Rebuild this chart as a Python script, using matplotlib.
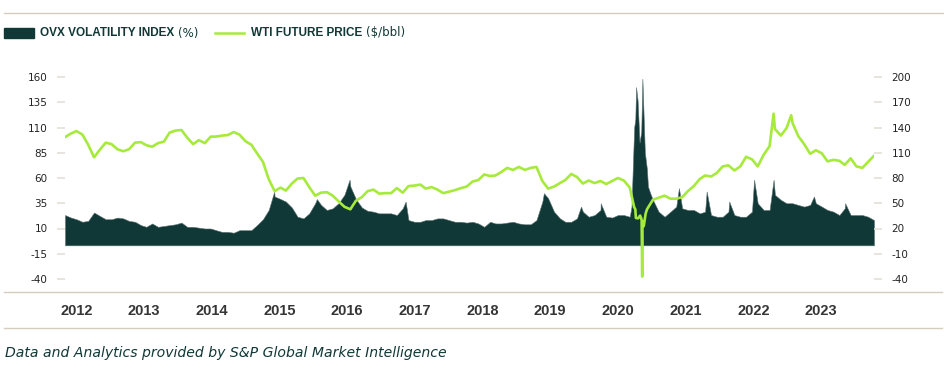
import matplotlib
matplotlib.use("Agg")
import matplotlib.pyplot as plt
from matplotlib.lines import Line2D
from matplotlib.patches import Rectangle
import pandas as pd

plt.rcParams["axes.unicode_minus"] = False

# Mensual (valor a mitad de mes), ene-2012 a ago-2023
wti_mensual = [
    100.5, 104.0, 106.5, 103.0, 93.0, 80.5, 88.0, 95.0, 93.5, 88.5, 86.5, 88.5,   # 2012
    95.0, 95.5, 92.5, 91.0, 94.5, 96.0, 105.0, 107.0, 107.5, 100.0, 93.5, 97.5,   # 2013
    94.5, 101.0, 101.0, 102.0, 102.5, 105.5, 103.0, 96.5, 93.0, 84.5, 76.0, 59.0, # 2014
    47.0, 50.5, 47.5, 54.5, 59.5, 60.0, 51.0, 42.5, 45.5, 46.0, 42.5, 37.0,       # 2015
    31.5, 29.0, 37.5, 41.0, 47.0, 48.5, 44.5, 45.0, 45.0, 50.0, 45.5, 52.0,       # 2016
    52.5, 53.5, 49.5, 51.0, 48.5, 45.0, 46.5, 48.0, 50.0, 51.5, 56.5, 58.0,       # 2017
    63.5, 62.0, 62.5, 66.0, 70.0, 68.0, 71.0, 68.0, 70.0, 71.0, 57.0, 49.5,       # 2018
    51.5, 55.0, 58.0, 64.0, 61.0, 54.5, 57.5, 55.0, 57.0, 54.0, 57.0, 60.0,       # 2019
    57.5, 50.5, 29.0, 19.9, 29.0, 38.5, 40.5, 42.5, 39.5, 39.5, 41.0, 47.0,       # 2020
    52.0, 59.0, 62.5, 61.5, 65.0, 71.5, 72.5, 67.5, 71.5, 81.0, 78.5, 71.5,       # 2021
    83.0, 91.5, 108.5, 102.0, 109.5, 114.5, 101.5, 93.5, 84.0, 87.5, 84.5, 76.5,  # 2022
    78.0, 77.0, 73.0, 79.5, 71.5, 70.0, 76.0, 82.0,                               # 2023
]
ovx_mensual = [
    36, 33, 31, 28, 29, 39, 35, 31, 31, 33, 32, 29,   # 2012
    28, 24, 22, 26, 22, 23, 24, 25, 27, 22, 22, 21,   # 2013
    20, 20, 18, 16, 16, 15, 18, 18, 18, 24, 31, 42,   # 2014
    58, 55, 52, 45, 34, 32, 38, 50, 48, 42, 44, 50,   # 2015
    60, 70, 55, 45, 41, 40, 38, 38, 38, 36, 44, 30,   # 2016
    28, 28, 30, 30, 32, 32, 30, 28, 28, 27, 28, 26,   # 2017
    22, 28, 26, 26, 27, 28, 26, 25, 25, 30, 52, 56,   # 2018
    40, 32, 28, 28, 32, 40, 34, 36, 42, 34, 33, 36,   # 2019
    36, 34, 150, 135, 90, 54, 40, 34, 40, 46, 44, 42, # 2020
    42, 38, 40, 36, 34, 34, 40, 36, 34, 34, 40, 50,   # 2021
    42, 42, 60, 54, 50, 50, 48, 46, 48, 50, 46, 42,   # 2022
    40, 36, 44, 36, 36, 36, 34, 30,                   # 2023
]

# Picos diarios que el promedio mensual no muestra
wti_fechas_dia = ["2020-03-09", "2020-03-18", "2020-03-30", "2020-04-09", "2020-04-17",
                  "2020-04-20", "2020-04-21", "2020-04-24", "2020-04-28", "2020-05-08",
                  "2022-03-08", "2022-06-08"]
wti_dia = [31.1, 20.4, 20.1, 22.8, 18.3, -37.6, 10.0, 17.0, 12.3, 24.7, 123.7, 122.1]

ovx_fechas_dia = ["2015-01-13", "2015-08-24", "2016-02-11", "2016-11-30", "2018-11-23",
                  "2019-06-05", "2019-09-16", "2020-02-24", "2020-03-03", "2020-03-09",
                  "2020-03-19", "2020-03-27", "2020-04-06", "2020-04-21", "2020-04-27",
                  "2020-05-04", "2020-05-20", "2020-06-01", "2020-10-29", "2021-03-23",
                  "2021-07-19", "2021-11-26", "2022-03-08", "2022-10-05", "2023-03-17"]
ovx_dia = [64, 55, 78, 52, 62, 46, 50, 46, 100, 140, 188, 172, 122, 198, 157,
           110, 70, 62, 68, 64, 52, 78, 78, 58, 50]

anios = ["2012", "2013", "2014", "2015", "2016", "2017",
         "2018", "2019", "2020", "2021", "2022", "2023"]
ticks_izq = [-40, -15, 10, 35, 60, 85, 110, 135, 160]
ticks_der = [-40, -10, 20, 50, 80, 110, 140, 170, 200]

# Colores
verde_osc = "#103836"
lima = "#a6ea3c"
linea_gris = "#d5cebf"
tick_gris = "#e3e0d8"
fuente_estrecha = ["Liberation Sans", "DejaVu Sans"]


def serie(valores, fechas_extra, valores_extra):
    meses = pd.date_range("2012-01-01", periods=len(valores), freq="MS") + pd.Timedelta(days=14)
    s = pd.Series(valores, index=meses, dtype=float)
    extra = pd.Series(valores_extra, index=pd.to_datetime(fechas_extra), dtype=float)
    s = pd.concat([s, extra]).sort_index()
    return s[~s.index.duplicated(keep="last")]


wti = serie(wti_mensual, wti_fechas_dia, wti_dia)
ovx = serie(ovx_mensual, ovx_fechas_dia, ovx_dia)

fig = plt.figure(figsize=(9.45, 3.75), dpi=100)
ax = fig.add_axes([65 / 945, 96 / 375, 809 / 945, 202 / 375])
ax2 = ax.twinx()

# OVX relleno (eje derecho), WTI linea (eje izquierdo)
ax2.fill_between(ovx.index, 0, ovx.values, color=verde_osc, linewidth=0.4, edgecolor="#5d7574")
ax.plot(wti.index, wti.values, color=lima, linewidth=1.9, solid_joinstyle="round")
ax.set_zorder(ax2.get_zorder() + 1)
ax.patch.set_visible(False)

ax.set_ylim(-40, 160)
ax2.set_ylim(-40, 200)
ax.set_yticks(ticks_izq)
ax2.set_yticks(ticks_der)
ax.set_xlim(wti.index[0], wti.index[-1])

# etiquetas de anio repartidas como en el original
inicio = pd.Timestamp("2012-03-14")
pos_anios = [inicio + pd.Timedelta(days=354 * i) for i in range(len(anios))]
ax.set_xticks(pos_anios)
ax.set_xticklabels(anios, family=fuente_estrecha, fontweight="bold", fontsize=10.5, color="#353535")
ax.tick_params(axis="x", length=0, pad=18)

for a in (ax, ax2):
    for sp in a.spines.values():
        sp.set_visible(False)
    a.tick_params(axis="y", length=6, width=1.2, color=tick_gris, pad=6.5,
                  labelsize=7.5, labelcolor="#222222")
ax2.tick_params(axis="x", length=0)

# lineas horizontales del marco
fig.add_artist(Line2D([4 / 945, 1], [1 - 13 / 375] * 2, color=linea_gris, linewidth=1))
fig.add_artist(Line2D([4 / 945, 942 / 945], [1 - 292 / 375] * 2, color=linea_gris, linewidth=1))
fig.add_artist(Line2D([4 / 945, 942 / 945], [1 - 328 / 375] * 2, color=linea_gris, linewidth=1))

# leyenda
fig.canvas.draw()
r = fig.canvas.get_renderer()
y_ley = 1 - 33 / 375
fig.add_artist(Rectangle((4 / 945, 1 - 38 / 375), 30 / 945, 10 / 375, color=verde_osc))
t1 = fig.text(40 / 945, y_ley, "OVX VOLATILITY INDEX", family=fuente_estrecha, fontweight="bold",
              fontsize=8.5, color=verde_osc, va="center")
x1 = t1.get_window_extent(r).x1
t1b = fig.text((x1 + 4) / 945, y_ley, "(%)", fontsize=8.5, color=verde_osc, va="center")
x_ley2 = max(200, t1b.get_window_extent(r).x1 + 16)
fig.add_artist(Line2D([x_ley2 / 945, (x_ley2 + 29) / 945], [y_ley, y_ley], color=lima, linewidth=1.8))
t2 = fig.text((x_ley2 + 36) / 945, y_ley, "WTI FUTURE PRICE", family=fuente_estrecha, fontweight="bold",
              fontsize=8.5, color=verde_osc, va="center")
x2 = t2.get_window_extent(r).x1
fig.text((x2 + 4) / 945, y_ley, "($/bbl)", fontsize=8.5, color=verde_osc, va="center")

pie = fig.text(5 / 945, 1 - 353 / 375, "Data and Analytics provided by S&P Global Market Intelligence",
               style="italic", fontsize=10, color=verde_osc, va="center")
pie.set_fontsize(10 * 441 / pie.get_window_extent(r).width)

fig.savefig("out.png", dpi=100)
